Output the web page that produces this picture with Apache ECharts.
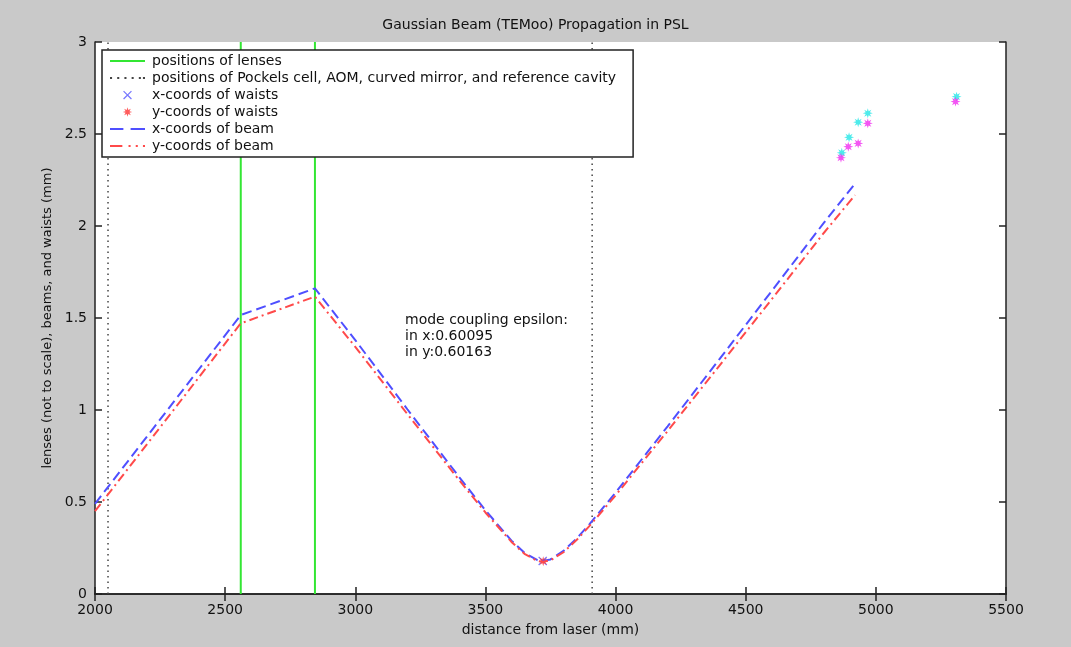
<!DOCTYPE html>
<html lang="en">
<head>
    <meta charset="utf-8">
    <title>Gaussian Beam Propagation</title>
    <script src="https://cdn.jsdelivr.net/npm/echarts@6/dist/echarts.min.js"></script>
</head>
<body style="margin:0;background:#c9c9c9;">
    <div id="main" style="width:1071px;height:647px;"></div>
<script type="text/javascript">
    // positions along the bench (mm)
    var lensPositions = [2560, 2845];
    var devicePositions = [2050, 3910];

    // beam radius, x-coords (blue dashed)
    var beamXPos = [2000, 2560, 2845, 3000, 3200, 3400, 3500, 3600, 3650, 3700, 3720, 3750, 3800, 3850, 3900, 4000, 4200, 4400, 4600, 4800, 4916];
    var beamXVal = [0.49, 1.516, 1.661, 1.38, 1.004, 0.634, 0.455, 0.29, 0.224, 0.184, 0.18, 0.188, 0.234, 0.301, 0.38, 0.551, 0.911, 1.278, 1.647, 2.017, 2.223];

    // beam radius, y-coords (red dash-dot)
    var beamYPos = [2000, 2560, 2845, 3000, 3200, 3400, 3500, 3600, 3650, 3700, 3720, 3750, 3800, 3850, 3900, 4000, 4200, 4400, 4600, 4800, 4920];
    var beamYVal = [0.45, 1.471, 1.616, 1.343, 0.978, 0.617, 0.443, 0.283, 0.218, 0.179, 0.175, 0.183, 0.227, 0.293, 0.37, 0.536, 0.886, 1.243, 1.602, 1.962, 2.168];

    // waists
    var waistX = [[3720, 0.18]];
    var waistY = [[3722, 0.178]];
    var cyanPos = [4869, 4897, 4932, 4969, 5310];
    var cyanVal = [2.398, 2.482, 2.564, 2.613, 2.703];
    var magentaPos = [4866, 4894, 4932, 4969, 5306];
    var magentaVal = [2.371, 2.431, 2.449, 2.558, 2.676];

    var zip = function (xs, ys) {
        var res = [];
        for (var i = 0; i < xs.length; i++) {
            res.push([xs[i], ys[i]]);
        }
        return res;
    };

    var starShape = 'M0,-10L1.72,-4.16L7.07,-7.07L4.16,-1.72L10,0L4.16,1.72L7.07,7.07L1.72,4.16L0,10L-1.72,4.16L-7.07,7.07L-4.16,1.72L-10,0L-4.16,-1.72L-7.07,-7.07L-1.72,-4.16Z';
    var crossShape = 'M-4,-5L0,-1L4,-5L5,-4L1,0L5,4L4,5L0,1L-4,5L-5,4L-1,0L-5,-4Z';
    var starPath = 'path://' + starShape;
    var crossPath = 'path://' + crossShape;
    // legend samples (tiny corner specks widen the box so the marks stay small)
    var iconCross = 'path://' + crossShape + ' M-8,-8h0.05v0.05h-0.05Z M7.95,7.95h0.05v0.05h-0.05Z';
    var iconStar = 'path://' + starShape + ' M-15,-15h0.05v0.05h-0.05Z M14.95,14.95h0.05v0.05h-0.05Z';
    var iconSolid = 'path://M0,0h34v2h-34Z';
    var iconDotted = 'path://M0,0h2v2h-2Z M7,0h2v2h-2Z M14,0h2v2h-2Z M21,0h2v2h-2Z M28,0h2v2h-2Z M32,0h2v2h-2Z';
    var iconDashed = 'path://M0,0h13v2h-13Z M20,0h14v2h-14Z';
    var iconDashDot = 'path://M0,0h12v2h-12Z M18,0h2v2h-2Z M25,0h2v2h-2Z M32,0h2v2h-2Z';
    var font = 'DejaVu Sans';

    var series = [];
    // lenses
    lensPositions.forEach(function (p) {
        series.push({
            name: 'positions of lenses',
            type: 'line',
            symbol: 'none',
            data: [[p, 0], [p, 3]],
            lineStyle: { color: '#33e633', width: 2 },
            itemStyle: { color: '#33e633' },
            z: 2
        });
    });
    // pockels cell etc.
    devicePositions.forEach(function (p) {
        series.push({
            name: 'positions of Pockels cell, AOM, curved mirror, and reference cavity',
            type: 'line',
            symbol: 'none',
            data: [[p, 0], [p, 3]],
            lineStyle: { color: '#444', width: 1.5, type: [1.5, 4] },
            itemStyle: { color: '#444' },
            z: 2
        });
    });
    series.push({
        name: 'x-coords of waists',
        type: 'scatter',
        symbol: crossPath,
        symbolSize: 9,
        data: waistX,
        itemStyle: { color: '#5555ff' },
        z: 4
    });
    series.push({
        name: 'y-coords of waists',
        type: 'scatter',
        symbol: starPath,
        symbolSize: 10,
        data: waistY,
        itemStyle: { color: '#ff3333' },
        z: 4
    });
    series.push({
        name: 'cyan waists',
        type: 'scatter',
        symbol: starPath,
        symbolSize: 10,
        data: zip(cyanPos, cyanVal),
        itemStyle: { color: '#22e6e6' },
        z: 3
    });
    series.push({
        name: 'magenta waists',
        type: 'scatter',
        symbol: starPath,
        symbolSize: 10,
        data: zip(magentaPos, magentaVal),
        itemStyle: { color: '#f02cf0' },
        z: 4
    });
    series.push({
        name: 'x-coords of beam',
        type: 'line',
        symbol: 'none',
        data: zip(beamXPos, beamXVal),
        lineStyle: { color: '#4f4fff', width: 2, type: [10, 5] },
        itemStyle: { color: '#4f4fff' },
        z: 5
    });
    series.push({
        name: 'y-coords of beam',
        type: 'line',
        symbol: 'none',
        data: zip(beamYPos, beamYVal),
        lineStyle: { color: '#ff4a4a', width: 2, type: [9, 4, 2, 4] },
        itemStyle: { color: '#ff4a4a' },
        z: 5
    });

    var axisCommon = {
        axisLine: { lineStyle: { color: '#222', width: 1.5 } },
        axisTick: { inside: true, length: 7, lineStyle: { color: '#222', width: 1.5 } },
        splitLine: { show: false }
    };

    var myChart = echarts.init(document.getElementById('main'));
    var option = {
        animation: false,
        backgroundColor: '#c9c9c9',
        title: {
            text: 'Gaussian Beam (TEMoo) Propagation in PSL',
            left: 'center',
            top: 13,
            textStyle: { fontFamily: font, fontSize: 14, fontWeight: 'normal', color: '#111' }
        },
        grid: { left: 95, right: 65, top: 42, bottom: 53, show: true, backgroundColor: '#fff', borderWidth: 0 },
        legend: {
            orient: 'vertical',
            left: 102,
            top: 50,
            padding: [4, 17, 4, 8],
            itemWidth: 35,
            itemHeight: 14,
            itemGap: 3,
            backgroundColor: '#fff',
            borderColor: '#222',
            borderWidth: 1.5,
            borderRadius: 0,
            data: [
                { name: 'positions of lenses', icon: iconSolid },
                { name: 'positions of Pockels cell, AOM, curved mirror, and reference cavity', icon: iconDotted },
                { name: 'x-coords of waists', icon: iconCross },
                { name: 'y-coords of waists', icon: iconStar },
                { name: 'x-coords of beam', icon: iconDashed },
                { name: 'y-coords of beam', icon: iconDashDot }
            ],
            textStyle: { fontFamily: font, fontSize: 14, color: '#111', padding: [0, 0, 0, 2] }
        },
        xAxis: [
            Object.assign({
                type: 'value', min: 2000, max: 5500, interval: 500,
                name: 'distance from laser (mm)',
                nameLocation: 'middle',
                nameGap: 29,
                nameTextStyle: { fontFamily: font, fontSize: 14, color: '#111' },
                axisLabel: {
                    fontFamily: font, fontSize: 14, color: '#111', margin: 9,
                    formatter: function (v) { return String(v); }
                }
            }, axisCommon),
            Object.assign({
                type: 'value', min: 2000, max: 5500, interval: 500, position: 'top',
                axisLabel: { show: false }
            }, axisCommon)
        ],
        yAxis: [
            Object.assign({
                type: 'value', min: 0, max: 3, interval: 0.5,
                name: 'lenses (not to scale), beams, and waists (mm)',
                nameLocation: 'middle',
                nameGap: 41,
                nameTextStyle: { fontFamily: font, fontSize: 13, color: '#111' },
                axisLabel: { fontFamily: font, fontSize: 14, color: '#111', margin: 8 }
            }, axisCommon),
            Object.assign({
                type: 'value', min: 0, max: 3, interval: 0.5, position: 'right',
                axisLabel: { show: false }
            }, axisCommon)
        ],
        graphic: [{
            type: 'text',
            left: 405,
            top: 312,
            style: {
                text: 'mode coupling epsilon:\nin x:0.60095\nin y:0.60163',
                font: '14px "DejaVu Sans"',
                lineHeight: 16,
                fill: '#111'
            },
            z: 10
        }],
        series: series
    };
    myChart.setOption(option);
</script>
</body>
</html>
